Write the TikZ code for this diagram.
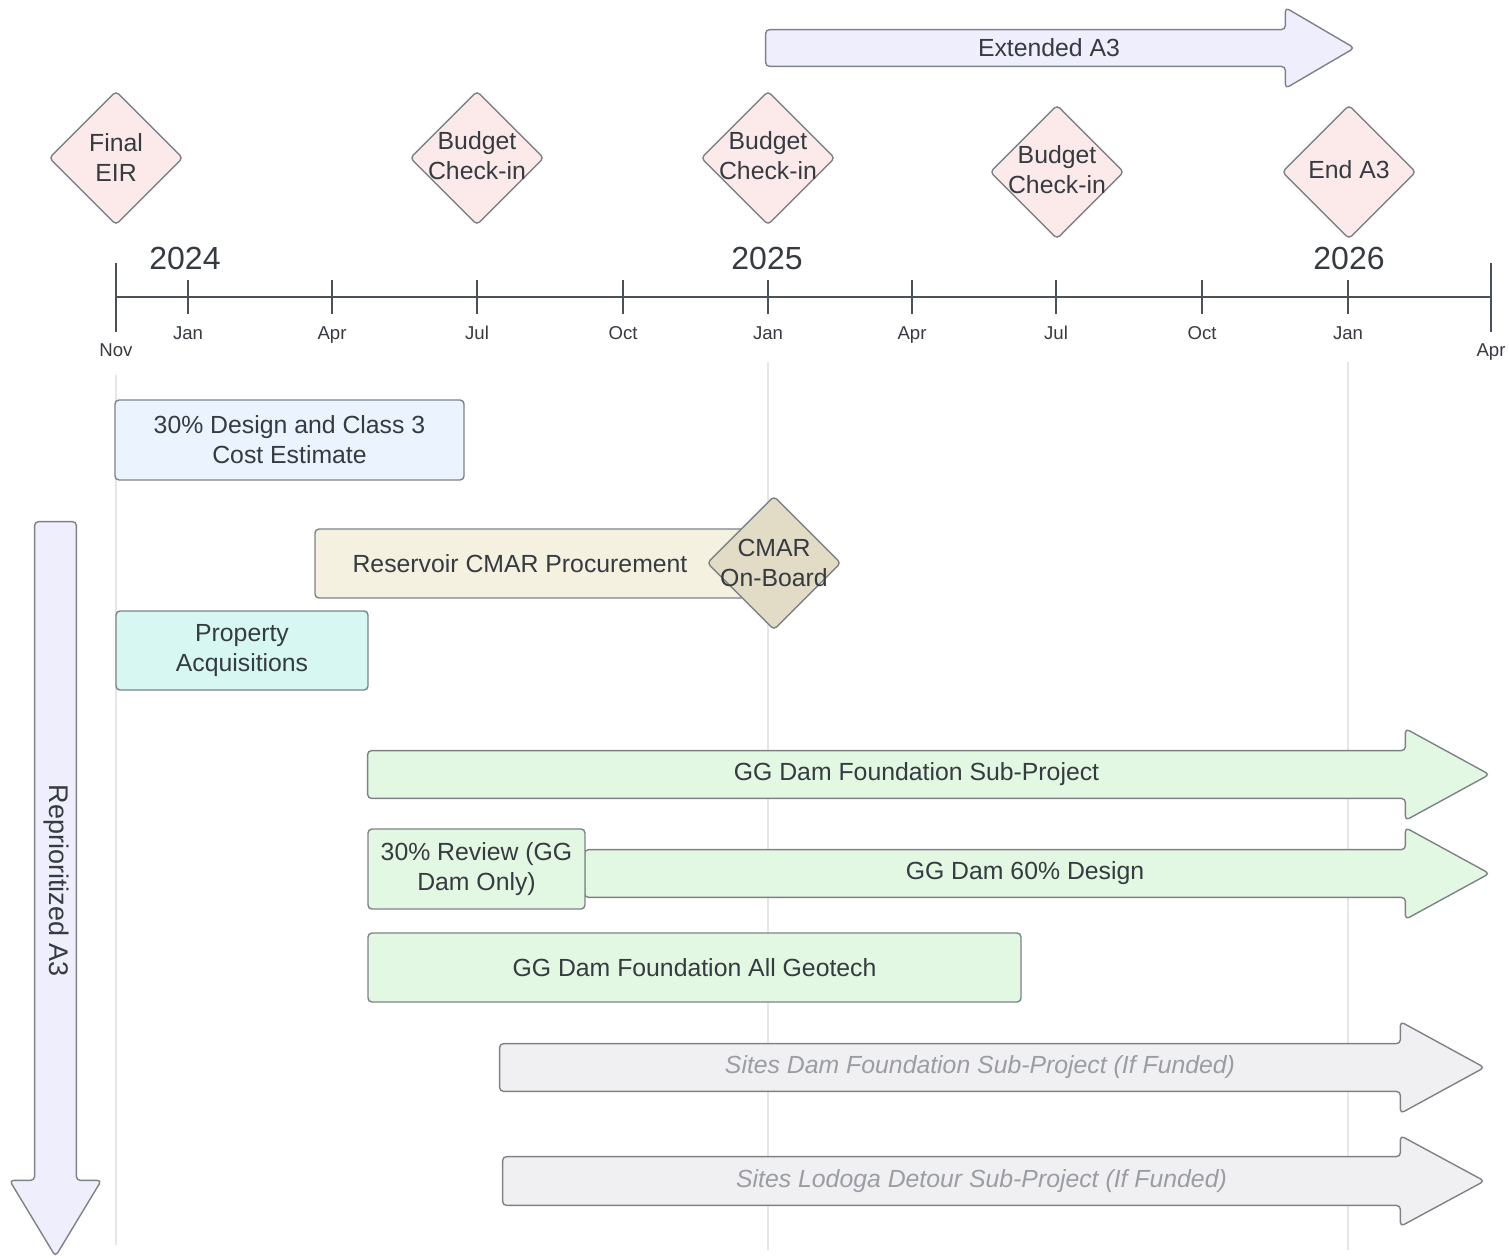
\documentclass[tikz,border=0pt]{standalone}
\usepackage{fontspec}
\setmainfont{Liberation Sans}
\usetikzlibrary{shapes,arrows,positioning,calc,backgrounds}

\definecolor{txtgrey}{HTML}{363B41}
\definecolor{edgegrey}{HTML}{7D8287}
\definecolor{axisgrey}{HTML}{4B5158}
\definecolor{gridgrey}{HTML}{E6E6E9}
\definecolor{fadegrey}{HTML}{9A9DA4}
\definecolor{mspink}{HTML}{FCEAEA}
\definecolor{lavender}{HTML}{EEEEFC}
\definecolor{designblue}{HTML}{EBF3FE}
\definecolor{beige}{HTML}{F5F1E1}
\definecolor{beigedark}{HTML}{E2DBC5}
\definecolor{aqua}{HTML}{D7F7F3}
\definecolor{mint}{HTML}{E2F8E2}
\definecolor{paleg}{HTML}{F0F0F2}

% outline of a block arrow round a shaft node: node, fill, head overhang, head length
\newcommand{\blockarrow}[4]{%
  \begin{scope}[on background layer]
    \draw[edgegrey, line width=0.7pt, fill=#2, rounded corners=2pt]
      (#1.north west) -- (#1.north east) -- ++(0,-#3) -- ($(#1.east)+(#4,0)$)
      -- ($(#1.south east)+(0,#3)$) -- (#1.south east) -- (#1.south west) -- cycle;
  \end{scope}}

\begin{document}
\begin{tikzpicture}[x=0.5pt, y=-0.5pt, font=\fontsize{12.4}{15}\selectfont, text=txtgrey]
  \tikzstyle{task}=[rectangle, draw=edgegrey, line width=0.7pt, rounded corners=2pt, align=center, inner sep=0pt]
  \tikzstyle{shaft}=[rectangle, inner sep=0pt]
  \tikzstyle{mile}=[diamond, draw=edgegrey, line width=0.7pt, fill=mspink, rounded corners=2pt, minimum width=67pt, minimum height=67pt, inner sep=0pt]
  \tikzstyle{month}=[font=\fontsize{9.3}{11}\selectfont, anchor=base]
  \tikzstyle{year}=[font=\fontsize{16}{19}\selectfont]

  \useasboundingbox (0,0) rectangle (1509,1258);

  % grid lines behind the bars
  \begin{scope}[on background layer]
    \draw[gridgrey, line width=0.6pt] (116,375) -- (116,1245);
    \draw[gridgrey, line width=0.6pt] (768,362) -- (768,1250);
    \draw[gridgrey, line width=0.6pt] (1348,362) -- (1348,1250);
  \end{scope}

  % extended A3
  \node[shaft, minimum width=259.5pt, minimum height=18pt, label={[xshift=11.75pt]center:Extended A3}] (ext) at (1025.5,48) {};
  \blockarrow{ext}{lavender}{22}{69}

  % milestones
  \node[mile, label={[align=center]center:Final\\EIR}] (eir) at (116,158) {};
  \node[mile, label={[align=center, yshift=1pt]center:Budget\\Check-in}] (bud1) at (477,158) {};
  \node[mile, label={[align=center, yshift=1pt]center:Budget\\Check-in}] (bud2) at (768,158) {};
  \node[mile, label={[align=center, yshift=1pt]center:Budget\\Check-in}] (bud3) at (1057,172) {};
  \node[mile, label={[align=center, yshift=1pt]center:End A3}] (enda3) at (1349,172) {};

  % time axis
  \coordinate (t0) at (116,297);
  \coordinate (t1) at (1491,297);
  \draw[axisgrey, line width=1pt] (t0) -- (t1);
  \draw[axisgrey, line width=1pt] (116,263) -- (116,332);
  \draw[axisgrey, line width=1pt] (1491,263) -- (1491,332);
  \node[month] (mnov) at (116,356) {Nov};
  \node[month] (mapr) at (1491,356) {Apr};
  \foreach \x/\m in {188/Jan, 332/Apr, 477/Jul, 623/Oct, 768/Jan, 912/Apr, 1056/Jul, 1202/Oct, 1348/Jan} {
    \draw[axisgrey, line width=1pt] (\x,280) -- (\x,314);
    \node[month] (m\x) at (\x,339) {\m};
  }
  \node[year] (y24) at (185,258) {2024};
  \node[year] (y25) at (767,258) {2025};
  \node[year] (y26) at (1349,258) {2026};

  % tasks
  \node[task, fill=designblue, minimum width=174.5pt, minimum height=40pt] (design) at (289.5,440) {30\% Design and Class 3\\Cost Estimate};
  \node[task, fill=beige, minimum width=215pt, minimum height=34.5pt, label={[xshift=-5pt]center:Reservoir CMAR Procurement}] (cmar) at (530,563.5) {};
  \node[mile, fill=beigedark, label={[align=center]center:CMAR\\On-Board}] (onboard) at (774,563) {};
  \node[task, fill=aqua, minimum width=126pt, minimum height=39.5pt] (prop) at (242,650.5) {Property\\Acquisitions};

  \node[shaft, minimum width=518.5pt, minimum height=23.5pt, label={[xshift=15pt]center:GG Dam Foundation Sub-Project}] (ggsub) at (886.5,774.5) {};
  \blockarrow{ggsub}{mint}{22}{84}

  \node[shaft, minimum width=410pt, minimum height=23.5pt, label={[xshift=15pt]center:GG Dam 60\% Design}] (gg60) at (995,873.5) {};
  \blockarrow{gg60}{mint}{22}{84}
  \node[task, fill=mint, minimum width=108.5pt, minimum height=40pt] (review) at (476.5,869) {30\% Review (GG\\Dam Only)};

  \node[task, fill=mint, minimum width=326.5pt, minimum height=34.5pt] (geotech) at (694.5,967.5) {GG Dam Foundation All Geotech};

  \node[shaft, minimum width=450pt, minimum height=23.5pt, label={[xshift=15pt, text=fadegrey, font=\fontsize{12.4}{15}\selectfont\itshape]center:Sites Dam Foundation Sub-Project (If Funded)}] (sitesdam) at (950,1067.5) {};
  \blockarrow{sitesdam}{paleg}{22}{84}

  \node[shaft, minimum width=448.5pt, minimum height=24pt, label={[xshift=15pt, text=fadegrey, font=\fontsize{12.4}{15}\selectfont\itshape]center:Sites Lodoga Detour Sub-Project (If Funded)}] (lodoga) at (951.5,1181) {};
  \blockarrow{lodoga}{paleg}{21}{84}

  % reprioritized A3
  \node[shaft, minimum width=20.5pt, minimum height=329pt] (rep) at (55.5,851) {};
  \begin{scope}[on background layer]
    \draw[edgegrey, line width=0.7pt, fill=lavender, rounded corners=2pt]
      (rep.north west) -- (rep.north east) -- (rep.south east) -- ++(25,0)
      -- ($(rep.south)+(0,76)$) -- ($(rep.south west)+(-25,0)$) -- (rep.south west) -- cycle;
  \end{scope}
  \node[rotate=-90, font=\fontsize{13.5}{16}\selectfont] (reptxt) at ($(rep.center)+(1,30)$) {Reprioritized A3};
\end{tikzpicture}
\end{document}
